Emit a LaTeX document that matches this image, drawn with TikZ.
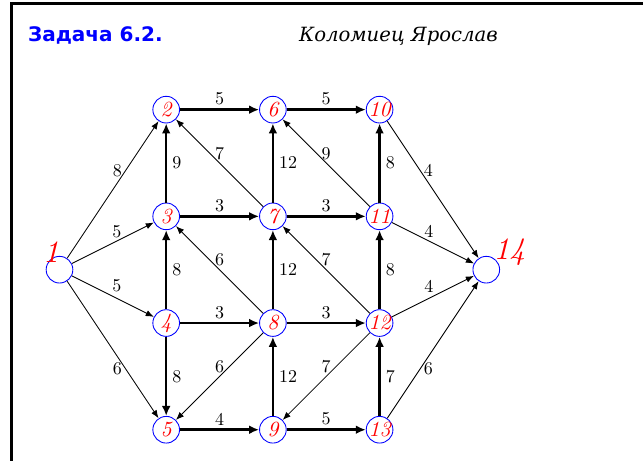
\documentclass[tikz,border=0pt]{standalone}
\usepackage{fontspec}
\usepackage{xcolor}
\usepackage{tikz}
\usetikzlibrary{arrows.meta, positioning, calc}
\newfontfamily\headfont{DejaVu Sans}
\newfontfamily\authorfont{DejaVu Serif}
\newfontfamily\cmfont{lmroman10-regular.otf}[ItalicFont=lmroman10-italic.otf]
\definecolor{taskblue}{RGB}{0, 0, 255}
\definecolor{vertexred}{RGB}{255, 0, 0}
\tikzset{
    vertex/.style={circle, draw=taskblue, line width=0.7pt, minimum size=0.75cm, inner sep=0pt,
                   font=\cmfont\LARGE\itshape, text=vertexred},
    bigno/.style={font=\cmfont\Huge\itshape, text=vertexred, inner sep=0pt},
    heavy/.style={line width=2pt, -{Latex[length=8pt, width=7pt]}},
    light/.style={line width=0.7pt, -{Latex[length=6.5pt, width=5pt]}},
    wt/.style={font=\cmfont\Large, inner sep=2.5pt},
}

\begin{document}
\begin{tikzpicture}
            \useasboundingbox (-1.673,-5.379) rectangle (16.407,7.583);
            \draw[line width=2.4pt] (-1.35,-5.5) |- (16.6,7.471);
            \node[anchor=base west, inner sep=0pt] (title) at (-0.89,6.42) {
                \textcolor{taskblue}{\headfont\bfseries\fontsize{16}{19}\selectfont Задача 6.2.}
            };
            \node[anchor=base east, inner sep=0pt] (author) at (12.33,6.41) {
                \authorfont\itshape\fontsize{15.7}{18}\selectfont Коломиец Ярослав
            };

            \node[vertex] (n1) at (0,0) {};
            \node[vertex] (n2) at (3,4.5) {2};
            \node[vertex] (n3) at (3,1.5) {3};
            \node[vertex] (n4) at (3,-1.5) {4};
            \node[vertex] (n5) at (3,-4.5) {5};
            \node[vertex] (n6) at (6,4.5) {6};
            \node[vertex] (n7) at (6,1.5) {7};
            \node[vertex] (n8) at (6,-1.5) {8};
            \node[vertex] (n9) at (6,-4.5) {9};
            \node[vertex] (n10) at (9,4.5) {10};
            \node[vertex] (n11) at (9,1.5) {11};
            \node[vertex] (n12) at (9,-1.5) {12};
            \node[vertex] (n13) at (9,-4.5) {13};
            \node[vertex] (n14) at (12,0) {};
            \node[bigno] (start) at ($(n1)+(-0.24,0.49)$) {1};
            \node[bigno] (finish) at ($(n14)+(0.65,0.49)$) {14};

            \draw[heavy] (n2) -- node[wt, above] {5} (n6);
            \draw[heavy] (n6) -- node[wt, above] {5} (n10);
            \draw[heavy] (n3) -- node[wt, above] {3} (n7);
            \draw[heavy] (n7) -- node[wt, above] {3} (n11);
            \draw[heavy] (n4) -- node[wt, above] {3} (n8);
            \draw[heavy] (n8) -- node[wt, above] {3} (n12);
            \draw[heavy] (n5) -- node[wt, above] {4} (n9);
            \draw[heavy] (n9) -- node[wt, above] {5} (n13);
            \draw[heavy] (n3) -- node[wt, right=1.5pt] {9} (n2);
            \draw[heavy] (n7) -- node[wt, right=1.5pt] {12} (n6);
            \draw[heavy] (n11) -- node[wt, right=1.5pt] {8} (n10);
            \draw[heavy] (n4) -- node[wt, right=1.5pt] {8} (n3);
            \draw[heavy] (n8) -- node[wt, right=1.5pt] {12} (n7);
            \draw[heavy] (n12) -- node[wt, right=1.5pt] {8} (n11);
            \draw[heavy] (n4) -- node[wt, right=1.5pt] {8} (n5);
            \draw[heavy] (n9) -- node[wt, right=1.5pt] {12} (n8);
            \draw[heavy] (n13) -- node[wt, right=1.5pt] {7} (n12);

            \draw[light] (n1) -- node[wt, pos=0.55, above=2pt] {8} (n2);
            \draw[light] (n1) -- node[wt, pos=0.55, above] {5} (n3);
            \draw[light] (n1) -- node[wt, pos=0.55, above=2pt] {5} (n4);
            \draw[light] (n1) -- node[wt, pos=0.55, below=2pt] {6} (n5);
            \draw[light] (n7) -- node[wt, above] {7} (n2);
            \draw[light] (n8) -- node[wt, above] {6} (n3);
            \draw[light] (n8) -- node[wt, above] {6} (n5);
            \draw[light] (n11) -- node[wt, above] {9} (n6);
            \draw[light] (n12) -- node[wt, above] {7} (n7);
            \draw[light] (n12) -- node[wt, above] {7} (n9);
            \draw[light] (n10) -- node[wt, pos=0.45, above=2pt] {4} (n14);
            \draw[light] (n11) -- node[wt, pos=0.45, above] {4} (n14);
            \draw[light] (n12) -- node[wt, pos=0.45, above=2pt] {4} (n14);
            \draw[light] (n13) -- node[wt, pos=0.45, below=2pt] {6} (n14);
\end{tikzpicture}
\end{document}
